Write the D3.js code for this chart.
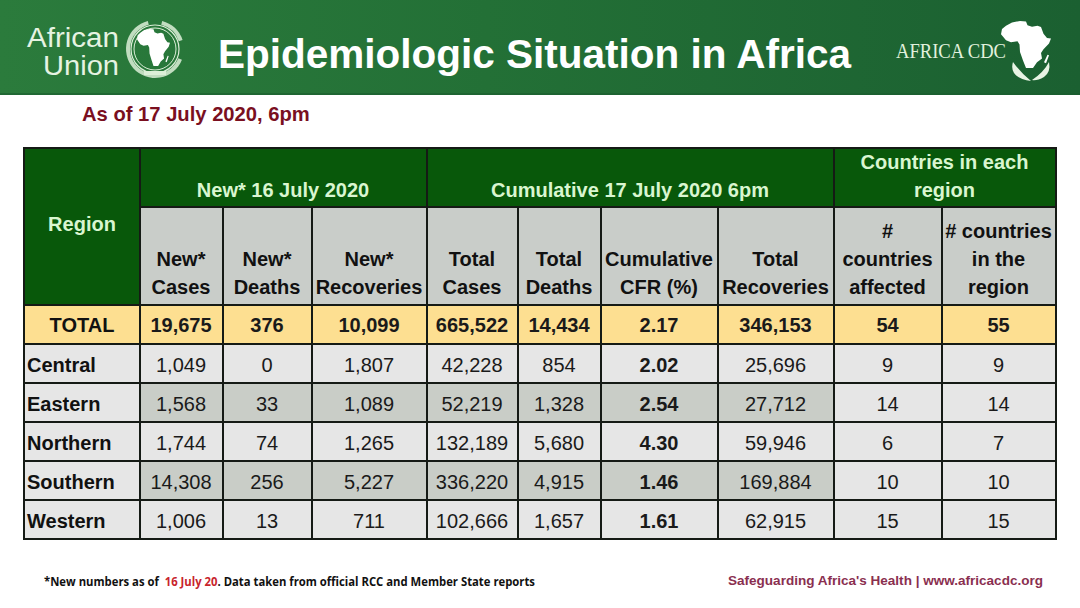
<!DOCTYPE html>
<html><head><meta charset="utf-8">
<script src="https://cdn.jsdelivr.net/npm/d3@7/dist/d3.min.js"></script>
<style>html,body{margin:0;padding:0;background:#fff;overflow:hidden}svg{display:block}text{font-family:"Liberation Sans",Arial,sans-serif}</style>
</head><body><svg id="c" width="1080" height="608"></svg>
<script>
// ---- data ----
const regions      = ["TOTAL","Central","Eastern","Northern","Southern","Western"];
const newCases     = [19675,1049,1568,1744,14308,1006];
const newDeaths    = [376,0,33,74,256,13];
const newRecov     = [10099,1807,1089,1265,5227,711];
const totalCases   = [665522,42228,52219,132189,336220,102666];
const totalDeaths  = [14434,854,1328,5680,4915,1657];
const cfr          = [2.17,2.02,2.54,4.30,1.46,1.61];
const totalRecov   = [346153,25696,27712,59946,169884,62915];
const affected     = [54,9,14,6,10,15];
const inRegion     = [55,9,14,7,10,15];
const columnHeads  = [["New*","Cases"],["New*","Deaths"],["New*","Recoveries"],["Total","Cases"],["Total","Deaths"],["Cumulative","CFR (%)"],["Total","Recoveries"],["#","countries","affected"],["# countries","in the","region"]];
const groupHeads   = [["New* 16 July 2020"],["Cumulative 17 July 2020 6pm"],["Countries in each","region"]];
const groupSpans   = [[0,3],[3,7],[7,9]];
const africaShape  = [[.22,.03],[.38,0],[.5,.01],[.53,.09],[.62,.12],[.73,.1],[.8,.13],[.85,.27],[.92,.36],[1,.37],[.96,.48],[.85,.6],[.8,.68],[.82,.8],[.72,.88],[.64,1],[.5,1],[.44,.84],[.38,.66],[.37,.5],[.33,.43],[.2,.45],[.1,.41],[0,.28],[.02,.17],[.1,.1]];
const madagascar   = [[.93,.72],[.96,.73],[.9,.9],[.86,.88]];

// ---- layout ----
const colEdges = [24,140,223,312,427,518,601,718,834,942,1056];
const rowEdges = [148,207,305,344,383,422,461,500,539];
const svg = d3.select("#c");
const defs = svg.append("defs");
const bg = defs.append("linearGradient").attr("id","ban");
[[0,"#2b7b3c"],[.45,"#237036"],[1,"#1b6031"]].forEach(s=>bg.append("stop").attr("offset",s[0]).attr("stop-color",s[1]));
const fmt = d3.format(",");
const x = i => colEdges[i];
const y = d3.scaleOrdinal().domain(d3.range(rowEdges.length)).range(rowEdges);

// ---- banner ----
svg.append("rect").attr("width",1080).attr("height",95).attr("fill","url(#ban)");
svg.append("rect").attr("y",93).attr("width",1080).attr("height",2).attr("fill","#1a5c2e").attr("opacity",.6);
svg.append("text").attr("x",218).attr("y",68).attr("font-size",40.5).attr("font-weight",700).attr("fill","#fff").text("Epidemiologic Situation in Africa");

const au = svg.append("g").attr("fill","#e6f3e2").attr("font-size",27).style("font-family","Lato,'Open Sans',sans-serif").style("font-weight",300);
au.append("text").attr("x",119).attr("y",47).attr("text-anchor","end").attr("textLength",92).attr("lengthAdjust","spacingAndGlyphs").text("African");
au.append("text").attr("x",119).attr("y",75).attr("text-anchor","end").attr("textLength",76).attr("lengthAdjust","spacingAndGlyphs").text("Union");

function africa(g,x0,y0,w,h){
  const sx=d3.scaleLinear().domain([0,1]).range([x0,x0+w]), sy=d3.scaleLinear().domain([0,1]).range([y0,y0+h]);
  const l=d3.line().x(d=>sx(d[0])).y(d=>sy(d[1])).curve(d3.curveLinearClosed);
  g.append("path").attr("d",l(africaShape)).attr("fill","#fff");
  g.append("path").attr("d",l(madagascar)).attr("fill","#fff");
}
const em = svg.append("g");
em.append("circle").attr("cx",155).attr("cy",49).attr("r",24).attr("fill","none").attr("stroke","#dcefd8").attr("stroke-width",1.2);
em.append("circle").attr("cx",155).attr("cy",49).attr("r",21).attr("fill","none").attr("stroke","#dcefd8").attr("stroke-width",1);
em.append("path").attr("d",d3.arc()({innerRadius:25,outerRadius:29,startAngle:Math.PI*.62,endAngle:Math.PI*1.92})).attr("transform","translate(155,49)").attr("fill","#dcefd8").attr("opacity",.85);
em.append("path").attr("d",d3.arc()({innerRadius:25,outerRadius:29,startAngle:Math.PI*.08,endAngle:Math.PI*.4})).attr("transform","translate(155,49)").attr("fill","#dcefd8").attr("opacity",.85);
em.append("rect").attr("x",144).attr("y",71).attr("width",22).attr("height",4).attr("fill","#dcefd8");
africa(em,137,29,33,37);

svg.append("text").attr("x",896).attr("y",58).attr("font-size",20.5).style("font-family","'Liberation Serif',serif").attr("fill","#e2f1de").attr("textLength",110).attr("lengthAdjust","spacingAndGlyphs").text("AFRICA CDC");
const cdc = svg.append("g");
africa(cdc,1001,21,50,47);
cdc.append("path").attr("d","M1013,62 Q1020,72 1031,81 Q1019,80 1014,73 Q1011,68 1013,62Z").attr("fill","#e8f4e4");
cdc.append("path").attr("d","M1049,62 Q1051,72 1044,77 Q1037,81 1032,80 Q1044,72 1049,62Z").attr("fill","#e8f4e4");

svg.append("text").attr("x",82).attr("y",121).attr("font-size",20.2).attr("font-weight",700).attr("fill","#7a0f1f").text("As of 17 July 2020, 6pm");

// ---- table ----
const dark="#08580a", headGrey="#c9cdc9", light="#e6e6e6", shade="#c9cdc7", gold="#fddf91", stroke="#151a15", head="#d9f6d0";
const t = svg.append("g");
const cellRect=(x0,x1,y0,y1,f)=>t.append("rect").attr("x",x0).attr("y",y0).attr("width",x1-x0).attr("height",y1-y0).attr("fill",f);
cellRect(colEdges[0],colEdges[1],y(0),y(2),dark);
groupSpans.forEach(s=>cellRect(x(s[0]+1),x(s[1]+1),y(0),y(1),dark));
columnHeads.forEach((c,i)=>cellRect(x(i+1),x(i+2),y(1),y(2),headGrey));

const rows=regions.map((r,i)=>({r,i,vals:[newCases[i],newDeaths[i],newRecov[i],totalCases[i],totalDeaths[i],cfr[i],totalRecov[i],affected[i],inRegion[i]]}));
const rowG=t.selectAll("g.row").data(rows).join("g").attr("class","row");
rowG.each(function(d){
  const g=d3.select(this), y0=y(d.i+2), y1=y(d.i+3), cy=(y0+y1)/2+8-(d.i===0?0.5:0);
  const isShaded=d.i===2||d.i===4;
  g.append("rect").attr("x",x(0)).attr("y",y0).attr("width",x(1)-x(0)).attr("height",y1-y0).attr("fill",d.i===0?gold:light);
  g.append("text").attr("x",d.i===0?(x(0)+x(1))/2:27).attr("y",cy).attr("text-anchor",d.i===0?"middle":"start").attr("font-size",20).attr("font-weight",700).attr("fill","#111").text(d.r);
  g.selectAll("g.v").data(d.vals).join("g").attr("class","v").each(function(v,j){
    const c=d3.select(this);
    c.append("rect").attr("x",x(j+1)).attr("y",y0).attr("width",x(j+2)-x(j+1)).attr("height",y1-y0)
      .attr("fill",d.i===0?gold:(isShaded&&j<7?shade:light));
    c.append("text").attr("x",(x(j+1)+x(j+2))/2-0.5).attr("y",cy).attr("text-anchor","middle").attr("font-size",20)
      .attr("font-weight",(d.i===0||j===5)?700:400).attr("fill","#1a1a1a")
      .text(j===5?v.toFixed(2):fmt(v));
  });
});

// grid lines
const ln=(a,b,c,d)=>t.append("line").attr("x1",a).attr("y1",b).attr("x2",c).attr("y2",d).attr("stroke",stroke).attr("stroke-width",2);
rowEdges.forEach((ry,i)=>{ if(i===1) ln(x(1),ry,x(10),ry); else ln(x(0),ry,x(10),ry); });
colEdges.forEach((cx,i)=>{
  const top=[0,1,4,8,10].includes(i)?rowEdges[0]:rowEdges[1];
  ln(cx,top,cx,rowEdges[8]);
});
t.selectAll("line").attr("stroke-linecap","square");

// header text
const mid=(a,b)=>(a+b)/2;
const hdr=(tx,ty,s,f)=>t.append("text").attr("x",tx).attr("y",ty).attr("text-anchor","middle").attr("font-size",20).attr("font-weight",700).attr("fill",f).text(s);
hdr(mid(x(0),x(1)),231,"Region",head);
groupHeads.forEach((g,i)=>{
  const cx=mid(x(groupSpans[i][0]+1),x(groupSpans[i][1]+1));
  g.forEach((s,k)=>hdr(cx-0.5,197-(g.length-1-k)*28,s,head));
});
columnHeads.forEach((c,i)=>{
  c.forEach((s,k)=>hdr(mid(x(i+1),x(i+2))-0.5,294-(c.length-1-k)*28,s,"#111"));
});

// ---- footer ----
const f=svg.append("text").attr("x",44).attr("y",586).attr("font-size",11.5).attr("font-weight",700).style("font-family","'Open Sans',sans-serif").attr("fill","#111").attr("textLength",491).attr("lengthAdjust","spacingAndGlyphs");
f.append("tspan").text("*New numbers as of\u00a0\u00a0");
f.append("tspan").attr("fill","#c8242c").text("16 July 20");
f.append("tspan").text(". Data taken from official RCC and Member State reports");
svg.append("text").attr("x",728).attr("y",585).attr("font-size",13).attr("font-weight",700).attr("fill","#8a2f50").attr("textLength",315).attr("lengthAdjust","spacingAndGlyphs").text("Safeguarding Africa's Health | www.africacdc.org");
</script></body></html>
